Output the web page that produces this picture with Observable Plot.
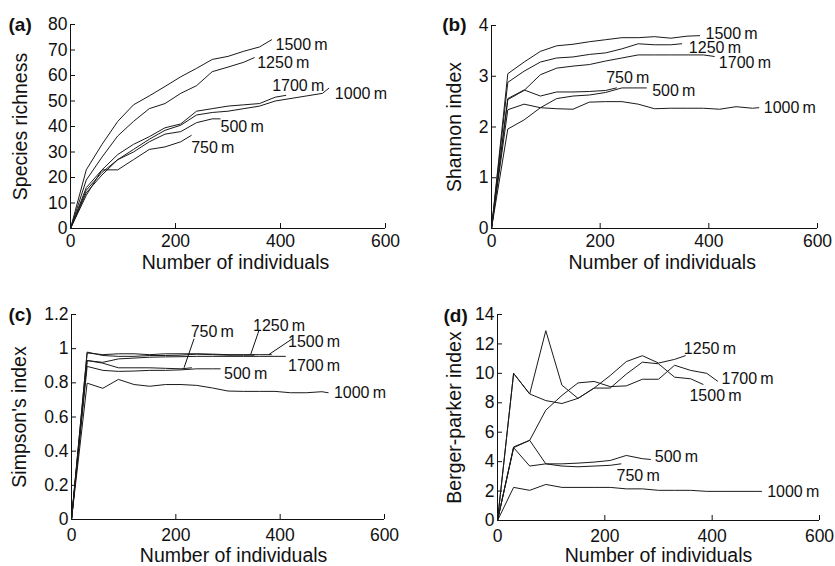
<!DOCTYPE html>
<html><head><meta charset="utf-8">
<script src="https://cdn.jsdelivr.net/npm/d3@7"></script>
<script src="https://cdn.jsdelivr.net/npm/@observablehq/plot@0.6"></script>
<style>
html,body{margin:0;padding:0;background:#fff;}
#fig{position:relative;width:835px;height:566px;overflow:hidden;background:#fff;}
#fig > svg{position:absolute;}
</style></head><body><div id="fig"></div>
<script>
// Sites (elevations) and the number of individuals sampled at each vertex
const sites = ["500 m", "750 m", "1000 m", "1250 m", "1500 m", "1700 m"];
const n500  = [0,30,60,90,120,150,180,210,240,270,285];
const n750  = [0,30,60,90,120,150,180,210,230];
const n1000 = [0,30,60,90,120,150,180,210,240,270,300,330,360,390,420,450,480,492];
const n1250 = [0,30,60,90,120,150,180,210,240,270,300,330,350];
const n1500 = [0,30,60,90,120,150,180,210,240,270,300,330,360,383];
const n1700 = [0,30,60,90,120,150,180,210,240,270,300,330,360,390,410];

// (a) Species richness
const rich500  = [0,15,22,27,30,34,37,38,41.5,43,43];
const rich750  = [0,13,23,23,27,31,32,34,36.5];
const rich1000 = [0,14,21,27,31,35,38.5,40.5,44.5,45.5,46,47,48,50,51,52,53,55];
const rich1250 = [0,19,28,36.3,42,47,49,53,56,61.5,63.3,65.2,67];
const rich1500 = [0,23,33,42,48.5,52,55.7,59.5,62.8,66.3,67.5,69.5,71.2,74];
const rich1700 = [0,16,23,29,33,36,39.5,41,46,47,48,48.5,49,51.5,52.2];

// (b) Shannon index
const shan500  = [0,1.96,2.14,2.38,2.56,2.61,2.63,2.68,2.77,2.77,2.77];
const shan750  = [0,2.56,2.73,2.61,2.69,2.69,2.7,2.72,2.77];
const shan1000 = [0,2.34,2.45,2.38,2.36,2.35,2.49,2.5,2.5,2.45,2.36,2.37,2.37,2.37,2.35,2.4,2.37,2.38];
const shan1250 = [0,2.88,3.1,3.28,3.36,3.38,3.43,3.46,3.54,3.64,3.62,3.62,3.64];
const shan1500 = [0,3.05,3.28,3.49,3.6,3.63,3.68,3.72,3.76,3.76,3.78,3.75,3.79,3.8];
const shan1700 = [0,2.54,2.72,3.03,3.16,3.2,3.23,3.3,3.36,3.42,3.42,3.42,3.42,3.42,3.39];

// (c) Simpson's index
const simp500  = [0,0.896,0.873,0.867,0.869,0.873,0.873,0.876,0.882,0.882,0.882];
const simp750  = [0,0.931,0.915,0.888,0.888,0.888,0.885,0.882,0.888];
const simp1000 = [0,0.798,0.768,0.82,0.79,0.78,0.79,0.79,0.785,0.77,0.752,0.75,0.75,0.75,0.742,0.742,0.748,0.742];
const simp1250 = [0,0.98,0.96,0.955,0.955,0.96,0.96,0.962,0.968,0.965,0.962,0.962,0.962];
const simp1500 = [0,0.975,0.965,0.97,0.97,0.965,0.97,0.97,0.97,0.968,0.965,0.965,0.965,0.965];
const simp1700 = [0,0.93,0.92,0.94,0.945,0.95,0.952,0.953,0.955,0.955,0.955,0.955,0.955,0.955,0.955];

// (d) Berger-parker index
const berg500  = [0,4.95,5.45,3.85,3.85,3.9,3.97,4.08,4.42,4.2,4.15];
const berg750  = [0,4.95,3.7,3.85,3.7,3.65,3.7,3.75,3.85];
const berg1000 = [0,2.25,2.05,2.45,2.25,2.25,2.25,2.25,2.15,2.15,2.05,2.05,2.05,1.98,1.98,1.98,1.98,1.98];
const berg1250 = [0,10,8.6,12.9,9.2,8.3,9.0,9.85,10.8,11.2,10.7,10.95,11.2];
const berg1500 = [0,10,8.6,8.15,7.95,8.3,9.0,9.0,9.95,10.76,10.65,9.74,9.63,9.25];
const berg1700 = [0,5,5.45,7.5,8.5,9.35,9.45,9.1,9.15,9.6,9.6,10.55,10.2,10.0,9.47];

// Tick values
const xTicks = [0, 200, 400, 600];
const yTicksA = [0, 10, 20, 30, 40, 50, 60, 70, 80];
const yTicksB = [0, 1, 2, 3, 4];
const yTicksC = [0, 0.2, 0.4, 0.6, 0.8, 1, 1.2];
const yTicksD = [0, 2, 4, 6, 8, 10, 12, 14];

// Series label anchors (data units), in site order
const labXA = [285.7, 229.9, 503.5, 355.6, 390.5, 384.1];
const labYA = [39.8, 31.6, 52.9, 64.9, 72.2, 55.8];
const labXB = [295.8, 211, 501.2, 363.2, 393.9, 418.4];
const labYB = [2.72, 2.97, 2.37, 3.55, 3.84, 3.26];
const labXC = [292.4, 228.5, 503, 347.9, 415, 415];
const labYC = [0.855, 1.097, 0.741, 1.136, 1.04, 0.902];
const labXD = [293.1, 221.7, 502.5, 347.2, 357.7, 417.4];
const labYD = [4.32, 3.0, 1.93, 11.67, 8.44, 9.63];

// Leader lines in panel (c): 750 m, 1250 m, 1500 m
const leadX1 = [234.9, 359.4, 423.4];
const leadY1 = [1.058, 1.107, 1.058];
const leadX2 = [215.7, 343.5, 378.5];
const leadY2 = [0.888, 0.966, 0.966];

const counts = [n500, n750, n1000, n1250, n1500, n1700];
const fig = document.getElementById("fig");
const FONT = "'Liberation Sans', Arial, Helvetica, sans-serif";

function panel(cfg) {
  const plotW = cfg.width - cfg.ml - cfg.mr;
  const plotH = cfg.height - cfg.mt - cfg.mb;
  const rows = sites.flatMap((s, i) => counts[i].map((n, j) => ({site: s, n, v: cfg.values[i][j]})));
  const labels = sites.map((s, i) => ({t: s.replace(" ", "\u2009"), x: cfg.labX[i], y: cfg.labY[i]}));
  const marks = [
    Plot.axisX(xTicks, {tickSize: 0, tickPadding: cfg.xPad, label: null, fontSize: 17.5}),
    Plot.axisY(cfg.yTicks, {tickSize: 0, tickPadding: 3, label: null, fontSize: 17.5, tickFormat: d => String(d)}),
    Plot.ruleX(xTicks.slice(1), {x: d => d, insetTop: plotH - 5, stroke: "#111"}),
    Plot.ruleY(cfg.yTicks.slice(1), {y: d => d, insetRight: plotW - 5, stroke: "#111"}),
    Plot.ruleX([0], {stroke: "#111"}),
    Plot.ruleY([0], {stroke: "#111"}),
    Plot.line(rows, {x: "n", y: "v", z: "site", stroke: "#1a1a1a", strokeWidth: 1}),
    Plot.text(labels, {x: "x", y: "y", text: "t", textAnchor: "start", lineAnchor: "middle", fontSize: 16, fill: "#111"}),
    Plot.text([cfg.letter], {frameAnchor: "top-left", dx: cfg.letterDx, dy: cfg.letterDy, textAnchor: "start", lineAnchor: "middle", fontWeight: "bold", fontSize: 19, fill: "#111"}),
    Plot.text([cfg.ylabel], {frameAnchor: "left", rotate: -90, dx: cfg.ylabDx, textAnchor: "middle", lineAnchor: "middle", fontSize: 19.5, fill: "#111"}),
    Plot.text(["Number of individuals"], {frameAnchor: "bottom", dx: cfg.xlabDx, dy: cfg.xlabDy, textAnchor: "middle", lineAnchor: "middle", fontSize: 19.5, fill: "#111"})
  ];
  if (cfg.leaders) {
    marks.push(Plot.link(cfg.leaders, {x1: "x1", y1: "y1", x2: "x2", y2: "y2", stroke: "#111", strokeWidth: 1}));
  }
  const svg = Plot.plot({
    width: cfg.width, height: cfg.height,
    marginTop: cfg.mt, marginRight: cfg.mr, marginBottom: cfg.mb, marginLeft: cfg.ml,
    x: {domain: [0, 600]},
    y: {domain: [0, cfg.yTicks[cfg.yTicks.length - 1]]},
    style: {fontFamily: FONT, fontSize: "17.5px", color: "#111", background: "transparent", overflow: "visible"},
    marks
  });
  svg.style.left = cfg.left + "px";
  svg.style.top = cfg.top + "px";
  fig.appendChild(svg);
}

panel({left: 0, top: 0, width: 417, height: 283, mt: 24, mr: 32, mb: 55, ml: 70,
  values: [rich500, rich750, rich1000, rich1250, rich1500, rich1700], yTicks: yTicksA,
  labX: labXA, labY: labYA, letter: "(a)", letterDx: -62, letterDy: 0,
  ylabel: "Species richness", ylabDx: -50, xlabDx: 7.5, xlabDy: 34, xPad: 6.3});

panel({left: 415, top: 0, width: 420, height: 283, mt: 25, mr: 18, mb: 55, ml: 76,
  values: [shan500, shan750, shan1000, shan1250, shan1500, shan1700], yTicks: yTicksB,
  labX: labXB, labY: labYB, letter: "(b)", letterDx: -49.3, letterDy: -1,
  ylabel: "Shannon index", ylabDx: -37.2, xlabDx: 7.7, xlabDy: 34, xPad: 6.3});

panel({left: 0, top: 280, width: 417, height: 286, mt: 34, mr: 33, mb: 47, ml: 71,
  values: [simp500, simp750, simp1000, simp1250, simp1500, simp1700], yTicks: yTicksC,
  labX: labXC, labY: labYC, letter: "(c)", letterDx: -63, letterDy: 0,
  ylabel: "Simpson's index", ylabDx: -52, xlabDx: 5.6, xlabDy: 36.5, xPad: 8.6,
  leaders: leadX1.map((x1, i) => ({x1, y1: leadY1[i], x2: leadX2[i], y2: leadY2[i]}))});

panel({left: 415, top: 280, width: 420, height: 286, mt: 34, mr: 16, mb: 46, ml: 82,
  values: [berg500, berg750, berg1000, berg1250, berg1500, berg1700], yTicks: yTicksD,
  labX: labXD, labY: labYD, letter: "(d)", letterDx: -54, letterDy: 1,
  ylabel: "Berger-parker index", ylabDx: -43.2, xlabDx: 0, xlabDy: 35.5, xPad: 8.6});
</script></body></html>
